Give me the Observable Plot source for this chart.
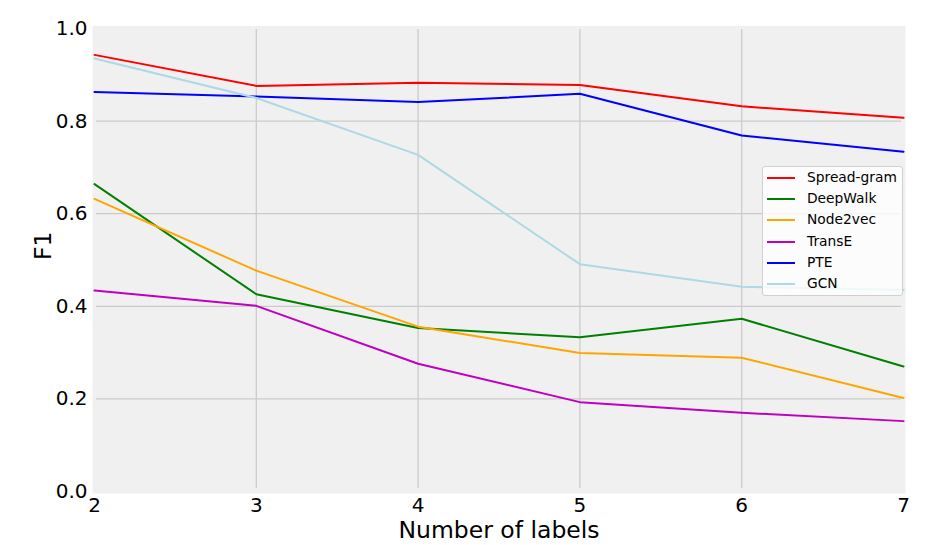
<!DOCTYPE html>
<html>
<head>
<meta charset="utf-8">
<script src="https://cdn.jsdelivr.net/npm/d3@7"></script>
<script src="https://cdn.jsdelivr.net/npm/@observablehq/plot@0.6"></script>
<style>
  html, body { margin: 0; padding: 0; background: #fff; }
  #wrap { position: relative; width: 950px; height: 545px; font-family: "DejaVu Sans", sans-serif; }
  #legend { position: absolute; left: 762px; top: 166px; width: 141px; height: 130px; box-sizing: border-box;
    background: rgba(255,255,255,0.8); border: 1px solid #d0d0d0; border-radius: 3px; }
  .item { position: absolute; left: 0; height: 20px; width: 140px; font-size: 13.8px; color: #000; }
  .item .sw { position: absolute; left: 4px; top: 9px; width: 28px; height: 2px; }
  .item .lb { position: absolute; left: 44px; top: 1px; line-height: 17px; white-space: nowrap; }
</style>
</head>
<body>
<div id="wrap"></div>
<script>
const labels = [2, 3, 4, 5, 6, 7];
const spreadGram = [0.943, 0.876, 0.883, 0.878, 0.832, 0.807];
const deepWalk   = [0.664, 0.426, 0.353, 0.333, 0.373, 0.270];
const node2vec   = [0.632, 0.477, 0.356, 0.299, 0.289, 0.202];
const transE     = [0.434, 0.401, 0.276, 0.193, 0.170, 0.152];
const pte        = [0.863, 0.853, 0.841, 0.859, 0.769, 0.734];
const gcn        = [0.935, 0.850, 0.727, 0.491, 0.442, 0.435];

const seriesNames = ["Spread-gram", "DeepWalk", "Node2vec", "TransE", "PTE", "GCN"];
const seriesValues = [spreadGram, deepWalk, node2vec, transE, pte, gcn];
const seriesColors = ["#ff0000", "#008000", "#ffa500", "#bf00bf", "#0000ff", "#add8e6"];

const xTicks = [2, 3, 4, 5, 6, 7];
const yTicks = [0, 0.2, 0.4, 0.6, 0.8, 1.0];
const xGrid = [3, 4, 5, 6];
const yGrid = [0.2, 0.4, 0.6, 0.8];

const rows = [];
seriesNames.forEach((name, i) => {
  labels.forEach((x, j) => rows.push({series: name, x, y: seriesValues[i][j]}));
});

const chart = Plot.plot({
  width: 950,
  height: 545,
  marginLeft: 94,
  marginRight: 47,
  marginTop: 28,
  marginBottom: 54,
  style: {fontFamily: "DejaVu Sans, sans-serif", background: "#fff", color: "#000"},
  x: {domain: [2, 7]},
  y: {domain: [0, 1]},
  color: {domain: seriesNames, range: seriesColors},
  marks: [
    Plot.frame({fill: "#f0f0f0", stroke: null, insetLeft: -2, insetRight: -2, insetTop: -2.6, insetBottom: -2}),
    Plot.ruleX(xGrid, {stroke: "#cbcbcb", strokeWidth: 1.3, insetTop: 1, insetBottom: 3}),
    Plot.ruleY(yGrid, {stroke: "#cbcbcb", strokeWidth: 1.3, insetLeft: 2, insetRight: 2}),
    Plot.axisX({ticks: xTicks, tickSize: 0, tickPadding: 6, fontSize: 20, label: null, tickFormat: d3.format("d")}),
    Plot.axisY({ticks: yTicks, tickSize: 0, tickPadding: 7, fontSize: 20, label: null, tickFormat: d3.format(".1f")}),
    Plot.line(rows, {x: "x", y: "y", z: "series", stroke: "series", strokeWidth: 2}),
    Plot.text(["Number of labels"], {frameAnchor: "bottom", dy: 46, lineAnchor: "bottom", fontSize: 23.5, fill: "#000"}),
    Plot.text(["F1"], {frameAnchor: "left", dx: -51, rotate: -90, fontSize: 23.5, fill: "#000"})
  ]
});

const wrap = document.getElementById("wrap");
wrap.appendChild(chart);

const legend = document.createElement("div");
legend.id = "legend";
seriesNames.forEach((name, i) => {
  const it = document.createElement("div");
  it.className = "item";
  it.style.top = (1 + i * 21.2) + "px";
  const sw = document.createElement("div");
  sw.className = "sw";
  sw.style.background = seriesColors[i];
  const lb = document.createElement("div");
  lb.className = "lb";
  lb.textContent = name;
  it.appendChild(sw);
  it.appendChild(lb);
  legend.appendChild(it);
});
wrap.appendChild(legend);
</script>
</body>
</html>
